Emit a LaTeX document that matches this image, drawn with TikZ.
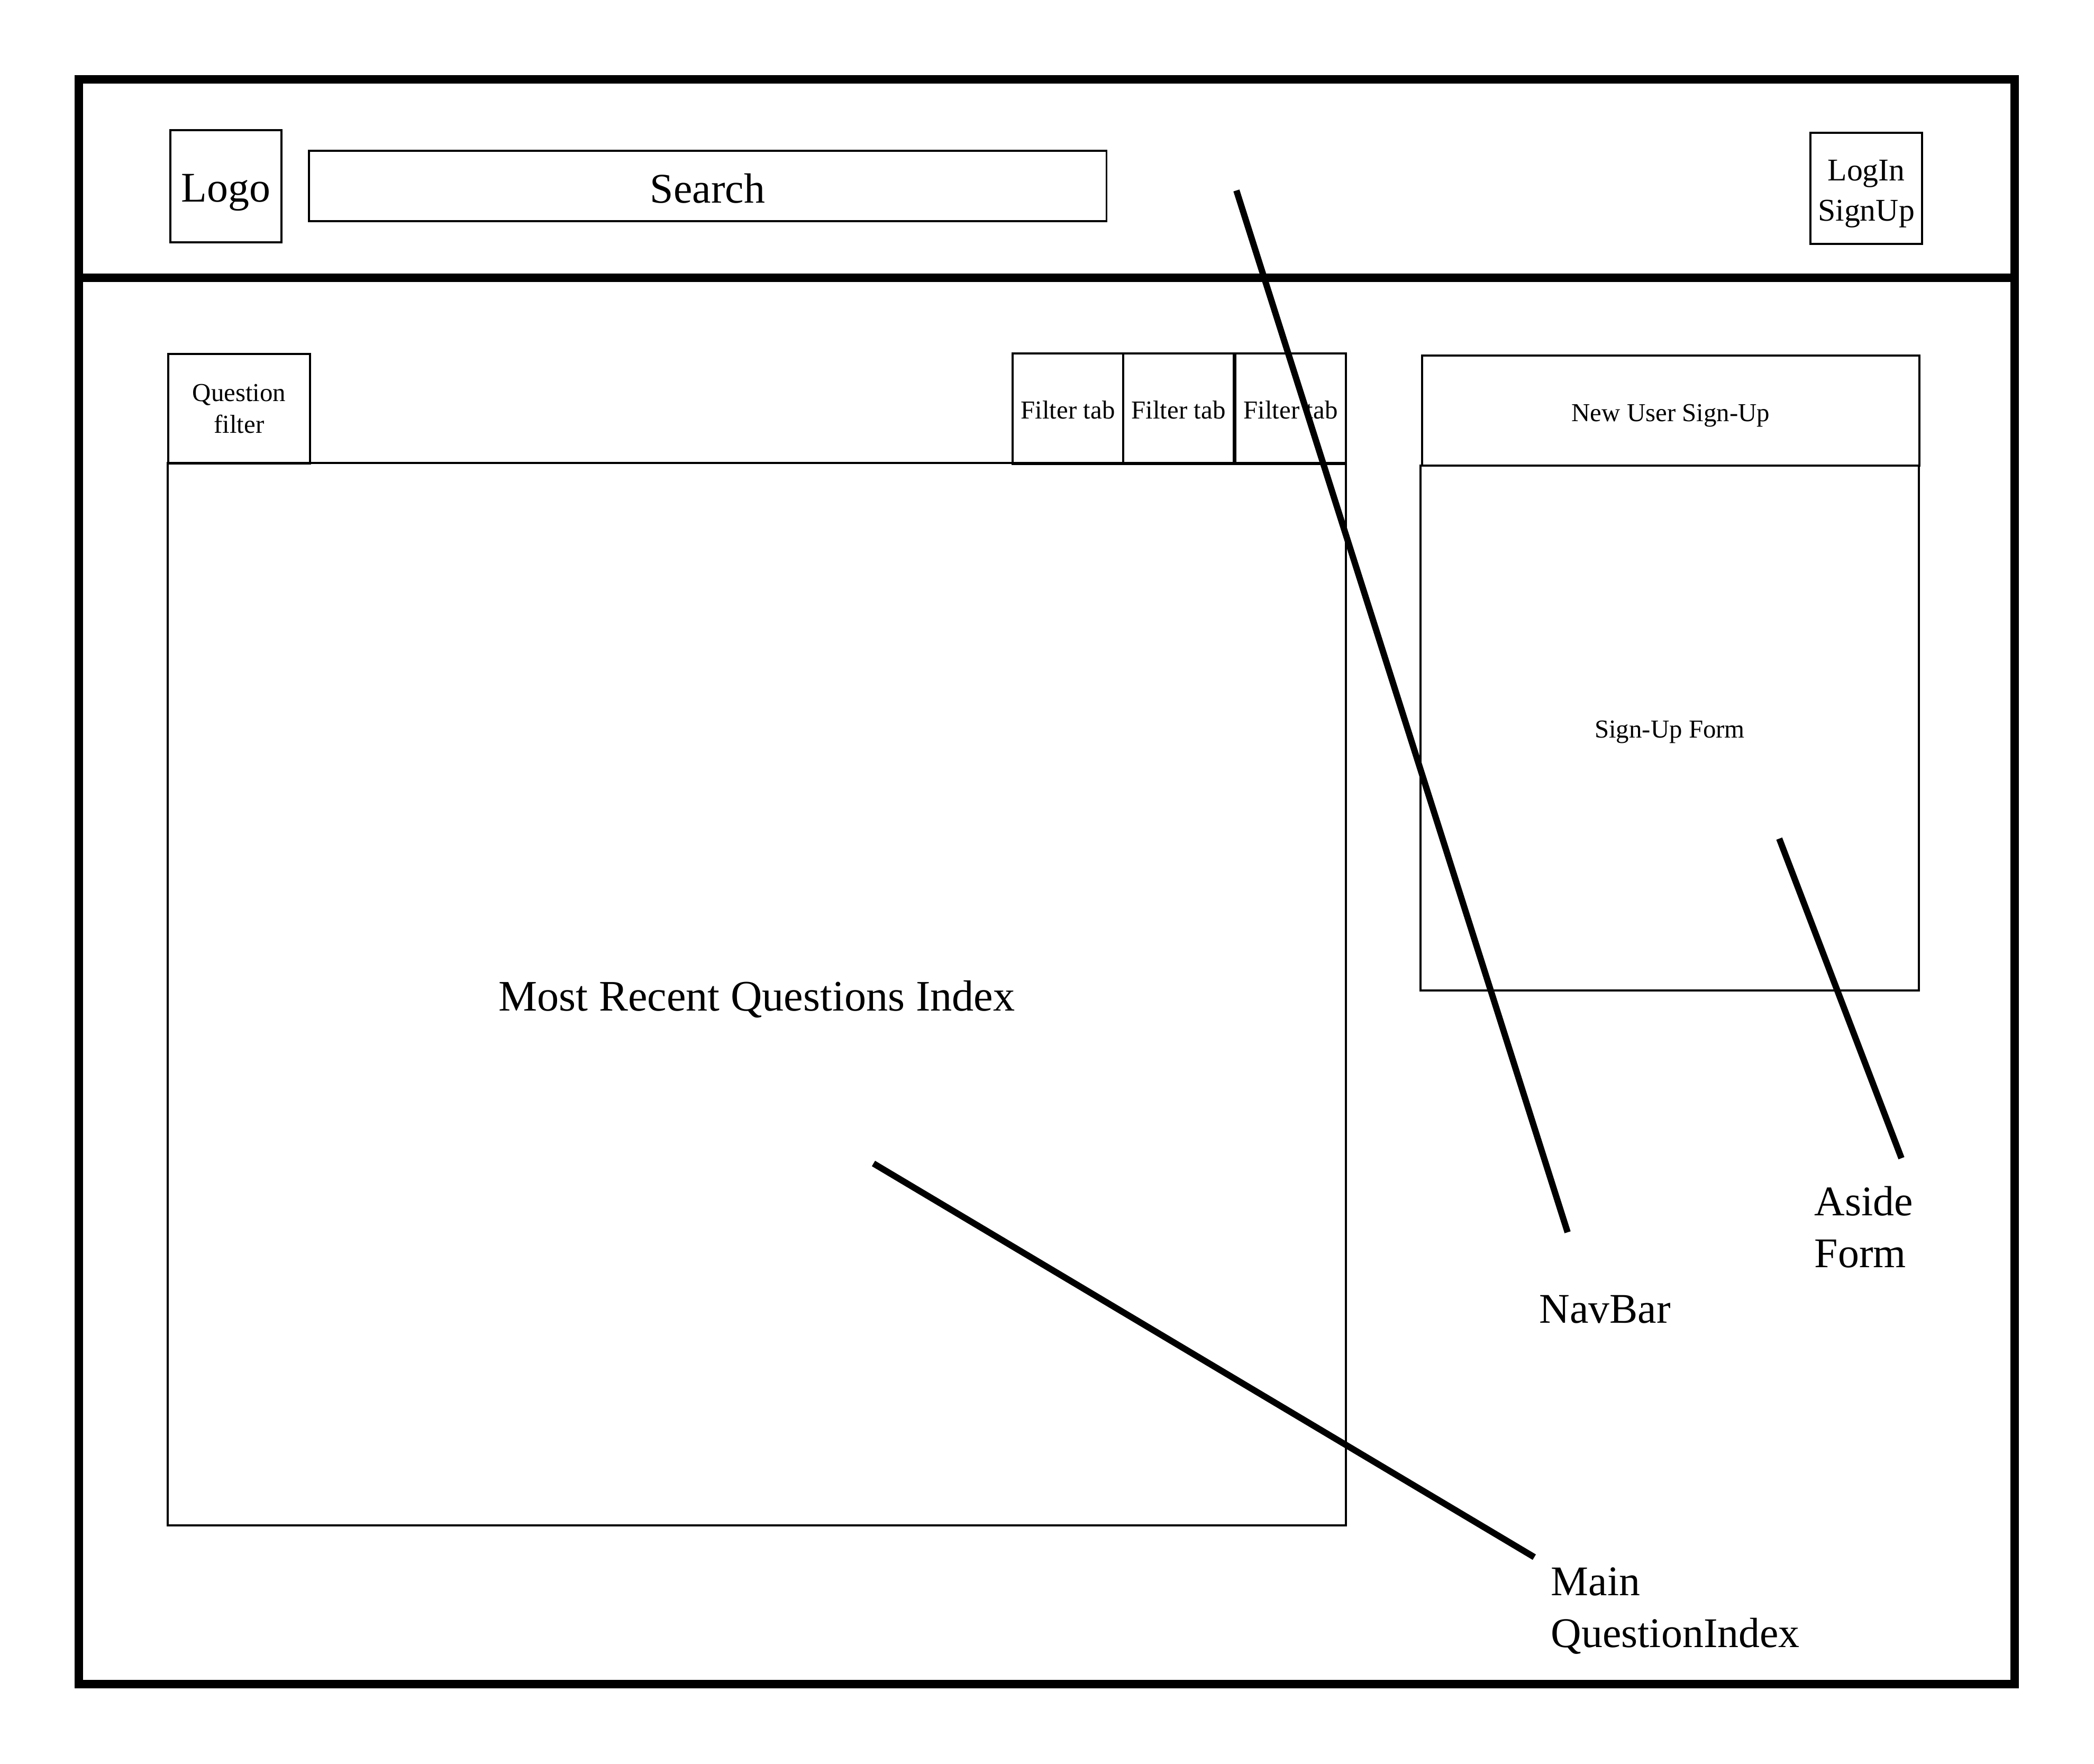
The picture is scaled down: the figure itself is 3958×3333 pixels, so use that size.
\documentclass[tikz,border=0pt]{standalone}
\usepackage{fontspec}
\setmainfont{Liberation Serif}
% lower a box's text without changing the space it reports
\newcommand\lowerby[2]{\raisebox{-#1}[\height][\depth]{#2}}
\begin{document}
\begin{tikzpicture}[x=0.01cm,y=-0.01cm,
  frame/.style={line width=4.55pt, line cap=rect},
  box/.style={draw, line width=1.1pt, inner sep=0pt, outer sep=0pt, align=center},
  bigtext/.style={font=\fontsize{22.7}{27.6}\selectfont},
  smalltext/.style={font=\fontsize{13.9}{17}\selectfont},
  pointer/.style={line width=3.4pt},
  label/.style={bigtext, inner sep=0pt, align=left}]
% canvas
\useasboundingbox (0,0) rectangle (3958,3333);
% browser window and navbar divider
\draw[frame] (149,150) rectangle (3808,3183);
\draw[frame] (149,525) -- (3808,525);
% navbar
\node[box, bigtext, minimum width=2.10cm, minimum height=2.12cm] (logo) at (427,352) {\lowerby{0.12cm}{Logo}};
\node[box, bigtext, minimum width=15.07cm, minimum height=1.33cm] (search) at (1337.5,351.5) {\lowerby{0.05cm}{Search}};
\node[box, font=\fontsize{17}{21.6}\selectfont, minimum width=2.11cm, minimum height=2.10cm] (login) at (3527.5,356)
  {\lowerby{0.08cm}{\begin{tabular}{@{}c@{}}LogIn\\SignUp\end{tabular}}};
% main question index
\node[box, smalltext, minimum width=2.68cm, minimum height=2.07cm] (qfilter) at (452,772.5) {Question\\filter};
\node[box, smalltext, minimum width=2.09cm, minimum height=2.09cm] (tabA) at (2018.5,772.5) {\lowerby{0.02cm}{Filter tab}};
\node[box, smalltext, minimum width=2.09cm, minimum height=2.09cm] (tabB) at (2227.5,772.5) {\lowerby{0.02cm}{Filter tab}};
\node[box, smalltext, minimum width=2.09cm, minimum height=2.09cm] (tabC) at (2439.5,772.5) {\lowerby{0.02cm}{Filter tab}};
\node[box, font=\fontsize{23.4}{28}\selectfont, minimum width=22.25cm, minimum height=20.06cm] (index) at (1430.5,1879) {\lowerby{0.10cm}{Most Recent Questions Index}};
% aside form
\node[box, smalltext, minimum width=9.40cm, minimum height=2.08cm] (signhead) at (3158,776) {\lowerby{0.10cm}{New User Sign-Up}};
\node[box, smalltext, minimum width=9.42cm, minimum height=9.92cm] (signform) at (3156,1376) {\lowerby{0.08cm}{Sign-Up Form}};
% annotations (base anchor sits on the last line)
\node[label, anchor=base west] (navlbl) at (2909,2500) {NavBar};
\node[label, anchor=base west] (asidelbl) at (3429,2395) {Aside\\Form};
\node[label, anchor=base west] (mainlbl) at (2931,3113) {Main\\QuestionIndex};
\coordinate (navA) at (2337,360);
\coordinate (navB) at (2963,2329);
\coordinate (asideA) at (3363,1585);
\coordinate (asideB) at (3594,2189);
\coordinate (mainA) at (1651,2199);
\coordinate (mainB) at (2900,2943);
\draw[pointer] (navA) -- (navB);
\draw[pointer] (asideA) -- (asideB);
\draw[pointer] (mainA) -- (mainB);
\end{tikzpicture}
\end{document}
